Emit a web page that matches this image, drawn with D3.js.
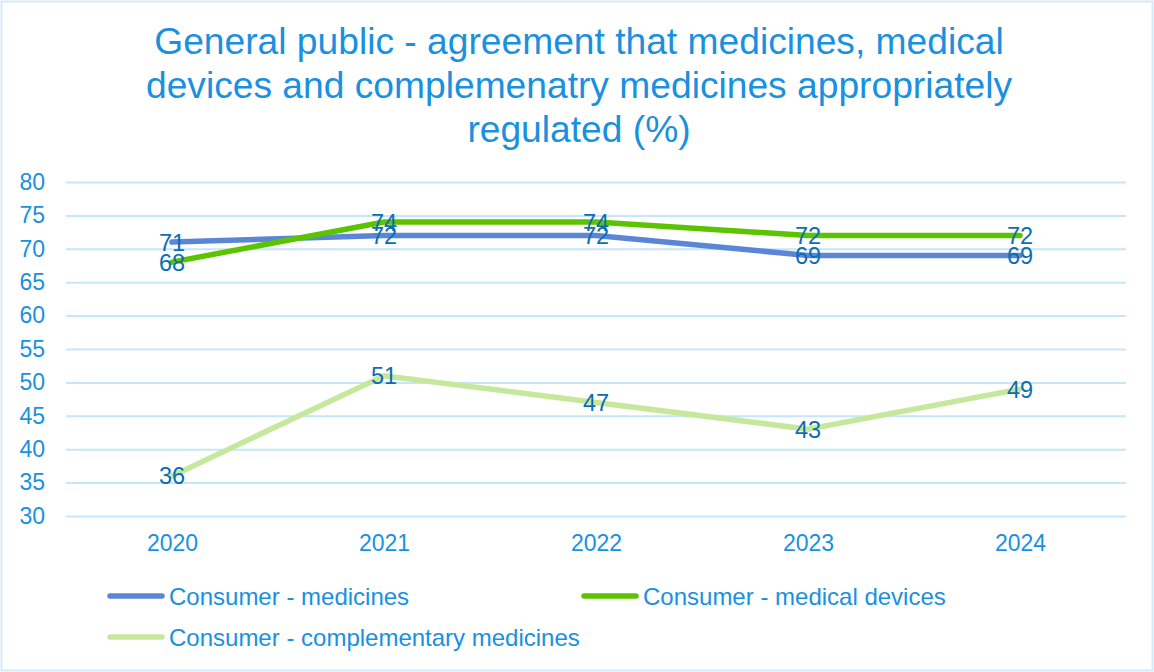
<!DOCTYPE html>
<html><head><meta charset="utf-8">
<script src="https://cdn.jsdelivr.net/npm/d3@7"></script>
<style>body{margin:0;background:#fff;}svg{display:block;font-family:"Liberation Sans",Arial,sans-serif;}</style>
</head><body>
<svg id="c" width="1154" height="672"></svg>
<script>
const years = ["2020","2021","2022","2023","2024"];
const medicines = [71,72,72,69,69];
const devices = [68,74,74,72,72];
const complementary = [36,51,47,43,49];
const seriesNames = ["Consumer - medicines","Consumer - medical devices","Consumer - complementary medicines"];
const yTicks = [30,35,40,45,50,55,60,65,70,75,80];
const titleLines = ["General public - agreement that medicines, medical","devices and complemenatry medicines appropriately","regulated (%)"];

const colors = ["#5b86d6","#5cc300","#c6e89c"];
const series = [medicines, devices, complementary];

const svg = d3.select("#c");
svg.append("rect").attr("x",1.5).attr("y",1.5).attr("width",1151).attr("height",669)
  .attr("fill","#fff").attr("stroke","#d6e9f8").attr("stroke-width",2);

svg.append("g").selectAll("text").data(titleLines).join("text")
  .attr("x",579).attr("y",(d,i)=>54+i*44).attr("text-anchor","middle")
  .attr("font-size",37.2).attr("fill","#1a90e0").text(d=>d);

const x = d3.scalePoint().domain(years).range([66,1126]).padding(0.5);
const y = d3.scaleLinear().domain([30,80]).range([516,182]);

const yAxis = svg.append("g").attr("transform","translate(66,0)")
  .call(d3.axisLeft(y).tickValues(yTicks).tickSize(-1060).tickPadding(21));
yAxis.select(".domain").remove();
yAxis.selectAll(".tick line").attr("stroke","#c5e6fb").attr("stroke-width",2);
yAxis.selectAll(".tick text").attr("fill","#1a90e0").attr("font-size",23).attr("font-family","Liberation Sans, Arial, sans-serif");

const xAxis = svg.append("g").attr("transform","translate(0,516)")
  .call(d3.axisBottom(x).tickSize(0).tickPadding(19));
xAxis.select(".domain").remove();
xAxis.selectAll(".tick text").attr("fill","#1a90e0").attr("font-size",23).attr("font-family","Liberation Sans, Arial, sans-serif");

const line = d3.line().x((d,i)=>x(years[i])).y(d=>y(d));
[2,0,1].forEach(k=>{
  svg.append("path").datum(series[k]).attr("d",line).attr("fill","none")
    .attr("stroke",colors[k]).attr("stroke-width",5.5).attr("stroke-linecap","round");
});
[2,0,1].forEach(k=>{
  svg.append("g").selectAll("text").data(series[k]).join("text")
    .attr("x",(d,i)=>x(years[i])).attr("y",d=>y(d)).attr("dy","0.36em")
    .attr("text-anchor","middle").attr("font-size",23.5).attr("fill","#0b6db4").text(d=>d);
});

const legendPos = [[110,596],[584,596],[110,637]];
seriesNames.forEach((n,k)=>{
  const [lx,ly] = legendPos[k];
  svg.append("line").attr("x1",lx).attr("x2",lx+52).attr("y1",ly).attr("y2",ly)
    .attr("stroke",colors[k]).attr("stroke-width",5.5).attr("stroke-linecap","round");
  svg.append("text").attr("x",lx+59).attr("y",ly).attr("dy","0.36em")
    .attr("font-size",24).attr("fill","#1a90e0").text(n);
});
</script>
</body></html>
